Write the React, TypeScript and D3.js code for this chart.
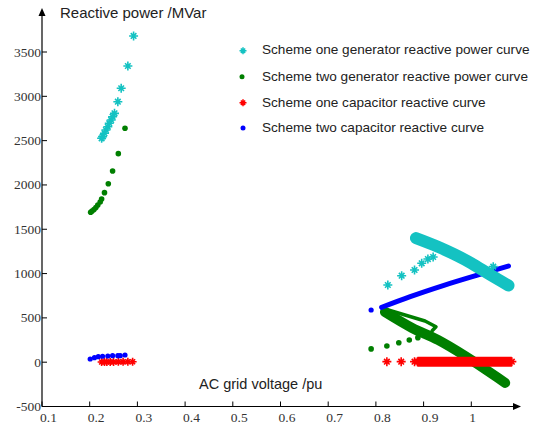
import React from "react";
import * as d3 from "d3";

type P = [number, number];

// ---- data (voltage pu, reactive power MVar) ----
const xTicks = [0.1, 0.2, 0.3, 0.4, 0.5, 0.6, 0.7, 0.8, 0.9, 1];
const xTickLabels = ["0.1", "0.2", "0.3", "0.4", "0.5", "0.6", "0.7", "0.8", "0.9", "1"];
const yTicks = [-500, 0, 500, 1000, 1500, 2000, 2500, 3000, 3500];

const legendLabels = [
  "Scheme one generator reactive power curve",
  "Scheme two generator reactive power curve",
  "Scheme one capacitor reactive curve",
  "Scheme two capacitor reactive curve",
];

// Scheme one generator (cyan stars)
const s1GenLeft: P[] = [
  [0.292, 3681], [0.28, 3342], [0.266, 3091], [0.259, 2939], [0.252, 2808],
  [0.248, 2770], [0.245, 2733], [0.241, 2696], [0.238, 2657], [0.234, 2620],
  [0.231, 2583], [0.227, 2544], [0.225, 2526],
];
const s1GenRightSparse: P[] = [
  [0.825, 871], [0.854, 976], [0.881, 1040], [0.896, 1116], [0.909, 1164],
  [0.92, 1187], [1.046, 1078],
];
const s1GenBand: P[] = [
  [0.884, 1400], [0.93, 1302], [1.0, 1117], [1.04, 985], [1.078, 866],
];

// Scheme two generator (green dots)
const s2GenLeft: P[] = [
  [0.274, 2639], [0.26, 2353], [0.248, 2157], [0.239, 2014], [0.231, 1913],
  [0.225, 1842], [0.222, 1808], [0.217, 1774], [0.213, 1746], [0.209, 1723],
  [0.205, 1706], [0.202, 1691],
];
const s2GenRightSparse: P[] = [
  [0.79, 150], [0.823, 183], [0.848, 220], [0.87, 250], [0.888, 277],
];
const s2GenBand: P[] = [
  [0.819, 566], [0.876, 386], [0.93, 251], [0.987, 70], [1.056, -178], [1.071, -234],
];
const s2GenLoop: P[] = [
  [0.819, 600], [0.861, 532], [0.903, 465], [0.926, 400], [0.918, 355],
];

// Scheme one capacitor (red stars)
const s1CapLeft: P[] = [
  [0.225, 2], [0.231, 2], [0.236, 3], [0.243, 3], [0.25, 3], [0.26, 4],
  [0.27, 4], [0.28, 5], [0.29, 5],
];
const s1CapRightSparse: P[] = [[0.823, 6], [0.853, 6], [0.881, 6]];
const s1CapBand: P[] = [[0.887, 6], [1.085, 6]];

// Scheme two capacitor (blue dots)
const s2CapLeft: P[] = [
  [0.201, 36], [0.21, 51], [0.218, 62], [0.227, 67], [0.238, 70], [0.248, 73],
  [0.259, 73], [0.264, 73], [0.274, 81],
];
const s2CapRightSparse: P[] = [[0.79, 589]];
const s2CapLine: P[] = [
  [0.812, 619], [0.872, 740], [0.941, 865], [1.011, 980], [1.078, 1085],
];

const CYAN = "#14c2c2";
const GREEN = "#007f00";
const RED = "#ff0000";
const BLUE = "#0000ff";

function starPath(s: number) {
  const d = s * 0.62;
  return `M${-s},0H${s}M0,${-s}V${s}M${-d},${-d}L${d},${d}M${-d},${d}L${d},${-d}`;
}

export default function App() {
  const W = 535, H = 427;
  const x = d3.scaleLinear().domain([0.1, 1.1]).range([42, 519]);
  const y = d3.scaleLinear().domain([-500, 3500]).range([406.5, 52]);
  const lineSmooth = d3.line<P>().x((d) => x(d[0])).y((d) => y(d[1])).curve(d3.curveMonotoneX);
  const lineLin = d3.line<P>().x((d) => x(d[0])).y((d) => y(d[1]));

  const x0 = x(0.1);
  const y0 = y(-500);
  const serif = "'Liberation Serif', 'Times New Roman', 'DejaVu Serif', serif";
  const sans = "'Liberation Sans', Arial, sans-serif";

  const stars = (pts: P[], color: string, s = 4.5, key = "") =>
    pts.map((p, i) => (
      <path key={key + i} d={starPath(s)} transform={`translate(${x(p[0])},${y(p[1])})`}
        stroke={color} strokeWidth={1.6} fill="none" />
    ));
  const dots = (pts: P[], color: string, r = 2.8, key = "") =>
    pts.map((p, i) => <circle key={key + i} cx={x(p[0])} cy={y(p[1])} r={r} fill={color} />);

  return (
    <svg width={W} height={H} style={{ position: "absolute", left: 0, top: 0, background: "#fff" }}>
      {/* axes */}
      <line x1={x0} y1={y0} x2={x0} y2={14} stroke="#000" strokeWidth={1.2} />
      <path d={`M${x0},8L${x0 - 3.5},16L${x0 + 3.5},16Z`} fill="#000" />
      <line x1={x0} y1={y0} x2={515} y2={y0} stroke="#000" strokeWidth={1.2} />
      <path d={`M${521},${y0}L${513},${y0 - 3.5}L${513},${y0 + 3.5}Z`} fill="#000" />

      {yTicks.map((t) => (
        <g key={"yt" + t}>
          <line x1={x0} x2={x0 + 5} y1={y(t)} y2={y(t)} stroke="#000" strokeWidth={1} />
          <text x={x0 - 1} y={y(t) + 4.5} textAnchor="end" style={{ fontFamily: serif, fontSize: 13.5 }} fill="#333">
            {t}
          </text>
        </g>
      ))}
      {xTicks.map((t, i) => (
        <g key={"xt" + t}>
          <line x1={x(t)} x2={x(t)} y1={y0} y2={y0 - 5} stroke="#000" strokeWidth={1} />
          <text x={x(t) - 2} y={422} textAnchor="start" style={{ fontFamily: serif, fontSize: 13.5 }} fill="#333">
            {xTickLabels[i]}
          </text>
        </g>
      ))}

      <text x={60} y={17.5} style={{ fontFamily: sans, fontSize: 15 }} fill="#222">Reactive power /MVar</text>
      <text x={199} y={389} style={{ fontFamily: sans, fontSize: 14.5 }} fill="#222">AC grid voltage /pu</text>

      {/* scheme two generator (green) */}
      <path d={lineSmooth(s2GenBand) || ""} stroke={GREEN} strokeWidth={10} fill="none" strokeLinecap="round" />
      <path d={lineLin(s2GenLoop) || ""} stroke={GREEN} strokeWidth={3.5} fill="none" strokeLinecap="round" strokeLinejoin="round" />
      {dots(s2GenLeft, GREEN, 2.8, "gl")}
      {dots(s2GenRightSparse, GREEN, 2.8, "gr")}

      {/* scheme one capacitor (red) */}
      <path d={lineLin(s1CapBand) || ""} stroke={RED} strokeWidth={10} fill="none" />
      {stars(s1CapLeft, RED, 4, "rl")}
      {stars(s1CapRightSparse, RED, 4.5, "rr")}
      {stars(s1CapBand, RED, 4.5, "rb")}

      {/* scheme two capacitor (blue) */}
      <path d={lineSmooth(s2CapLine) || ""} stroke={BLUE} strokeWidth={5} fill="none" strokeLinecap="round" strokeLinejoin="round" />
      {dots(s2CapLeft, BLUE, 2.6, "bl")}
      {dots(s2CapRightSparse, BLUE, 2.6, "br")}

      {/* scheme one generator (cyan) */}
      <path d={lineSmooth(s1GenBand) || ""} stroke={CYAN} strokeWidth={12} fill="none" strokeLinecap="round" />
      {stars(s1GenLeft, CYAN, 4.5, "cl")}
      {stars(s1GenRightSparse, CYAN, 4.5, "cr")}

      {/* legend */}
      {legendLabels.map((lab, i) => {
        const ly = [54, 81, 107, 132][i];
        const my = [50.7, 76.7, 102.7, 128][i];
        const mk =
          i === 0 ? <path d={starPath(3.5)} transform={`translate(243,${my})`} stroke={CYAN} strokeWidth={1.5} fill="none" />
          : i === 1 ? <circle cx={242} cy={my} r={2.5} fill={GREEN} />
          : i === 2 ? <path d={starPath(3.5)} transform={`translate(243,${my})`} stroke={RED} strokeWidth={1.5} fill="none" />
          : <circle cx={243} cy={my} r={2.5} fill={BLUE} />;
        return (
          <g key={"lg" + i}>
            {mk}
            <text x={262} y={ly} style={{ fontFamily: sans, fontSize: 13.6 }} fill="#222">{lab}</text>
          </g>
        );
      })}
    </svg>
  );
}
